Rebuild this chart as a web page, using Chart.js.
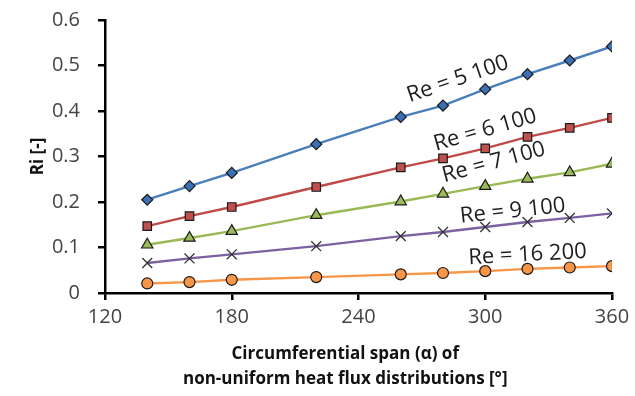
<!DOCTYPE html>
<html>
<head>
<meta charset="utf-8">
<script src="https://cdn.jsdelivr.net/npm/chart.js@4"></script>
<style>
  html, body { margin: 0; padding: 0; background: #fff; }
  #wrap { width: 635px; height: 396px; }
</style>
</head>
<body>
<div id="wrap"><canvas id="ri_chart"></canvas></div>
<script>
// circumferential span (deg)
const alpha = [140, 160, 180, 220, 260, 280, 300, 320, 340, 360];

// Ri for each Reynolds number
const ri_5100 = [0.205, 0.235, 0.264, 0.327, 0.387, 0.412, 0.448, 0.481, 0.511, 0.542];
const ri_6100 = [0.147, 0.169, 0.189, 0.233, 0.276, 0.296, 0.318, 0.343, 0.363, 0.385];
const ri_7100 = [0.106, 0.121, 0.136, 0.171, 0.201, 0.218, 0.235, 0.251, 0.265, 0.284];
const ri_9100 = [0.066, 0.076, 0.085, 0.103, 0.125, 0.134, 0.145, 0.156, 0.165, 0.175];
const ri_16200 = [0.021, 0.024, 0.029, 0.035, 0.041, 0.044, 0.048, 0.053, 0.056, 0.059];

const series_names = ["Re = 5 100", "Re = 6 100", "Re = 7 100", "Re = 9 100", "Re = 16 200"];

const x_ticks = [120, 180, 240, 300, 360];
const y_ticks = [0, 0.1, 0.2, 0.3, 0.4, 0.5, 0.6];

const FONT = "'Open Sans', sans-serif";

function pts(vals) {
  return alpha.map((a, i) => ({ x: a, y: vals[i] }));
}

function makeSet(label, vals, line, fill, style, radius) {
  return {
    label: label,
    data: pts(vals),
    borderColor: line,
    borderWidth: 2.4,
    pointStyle: style,
    pointRadius: radius,
    pointBackgroundColor: fill,
    pointBorderColor: style == "crossRot" ? "#333" : "#1a1a1a",
    pointBorderWidth: style == "crossRot" ? 1.3 : 1.2,
    tension: 0,
  };
}

// where the curve names sit (data coords) and their tilt
const label_spots = [
  { x: 287, y: 0.470, rot: -19 },
  { x: 300, y: 0.358, rot: -16 },
  { x: 304, y: 0.287, rot: -15 },
  { x: 313, y: 0.180, rot: -6 },
  { x: 320, y: 0.084, rot: -3 },
];

const curveLabels = {
  id: "curveLabels",
  afterDatasetsDraw(chart) {
    const c = chart.ctx;
    const xs = chart.scales.x, ys = chart.scales.y;
    c.save();
    c.font = "22px " + FONT;
    c.fillStyle = "#1e1e1e";
    c.textAlign = "center";
    c.textBaseline = "middle";
    series_names.forEach((name, i) => {
      const s = label_spots[i];
      c.save();
      c.translate(xs.getPixelForValue(s.x), ys.getPixelForValue(s.y));
      c.rotate((s.rot * Math.PI) / 180);
      c.fillText(name, 0, 0);
      c.restore();
    });
    c.restore();
  },
};

const ctx = document.getElementById("ri_chart").getContext("2d");

new Chart(ctx, {
  type: "line",
  data: {
    datasets: [
      makeSet(series_names[0], ri_5100, "#4a7ebb", "#3d6fb6", "rectRot", 5.5),
      makeSet(series_names[1], ri_6100, "#be4b48", "#c0504d", "rect", 6),
      makeSet(series_names[2], ri_7100, "#98b954", "#9bbb59", "triangle", 6.5),
      makeSet(series_names[3], ri_9100, "#7d60a0", "#7d60a0", "crossRot", 7),
      makeSet(series_names[4], ri_16200, "#f79646", "#f79646", "circle", 5.5),
    ],
  },
  options: {
    responsive: true,
    maintainAspectRatio: false,
    animation: false,
    layout: { padding: { left: 0, top: 20, right: 23, bottom: 0 } },
    plugins: {
      legend: { display: false },
      tooltip: { enabled: false },
    },
    scales: {
      x: {
        type: "linear",
        min: 120,
        max: 360,
        afterBuildTicks(scale) {
          scale.ticks = x_ticks.map((v) => ({ value: v }));
        },
        afterFit(scale) {
          scale.height = 103;
          scale.paddingRight = 0;
          scale.paddingLeft = 0;
        },
        grid: { drawOnChartArea: false, drawTicks: true, tickLength: 7, color: "#000", lineWidth: 2.5 },
        border: { display: true, color: "#000", width: 2.5 },
        ticks: { color: "#444", font: { family: FONT, size: 20 }, padding: 5, maxRotation: 0 },
        title: {
          display: true,
          text: ["Circumferential span (\u03b1) of      ", "non-uniform heat flux distributions [\u00b0]      "],
          color: "#111",
          font: { family: FONT, size: 17, weight: "bold", lineHeight: 1.5 },
          padding: { top: 0, bottom: 4 },
        },
      },
      y: {
        min: 0,
        max: 0.6,
        afterBuildTicks(scale) {
          scale.ticks = y_ticks.map((v) => ({ value: v }));
        },
        afterFit(scale) {
          scale.width = 105;
          scale.paddingTop = 0;
          scale.paddingBottom = 0;
        },
        grid: { drawOnChartArea: false, drawTicks: true, tickLength: 7, color: "#000", lineWidth: 2.5 },
        border: { display: true, color: "#000", width: 2.5 },
        ticks: {
          color: "#444",
          font: { family: FONT, size: 20 },
          padding: 18,
          callback: (v) => (v === 0 ? "0" : v.toFixed(1)),
        },
        title: {
          display: true,
          text: "Ri [-]",
          color: "#111",
          font: { family: FONT, size: 17, weight: "bold" },
          padding: { top: 28, bottom: 0 },
        },
      },
    },
  },
  plugins: [curveLabels],
});
</script>
</body>
</html>
